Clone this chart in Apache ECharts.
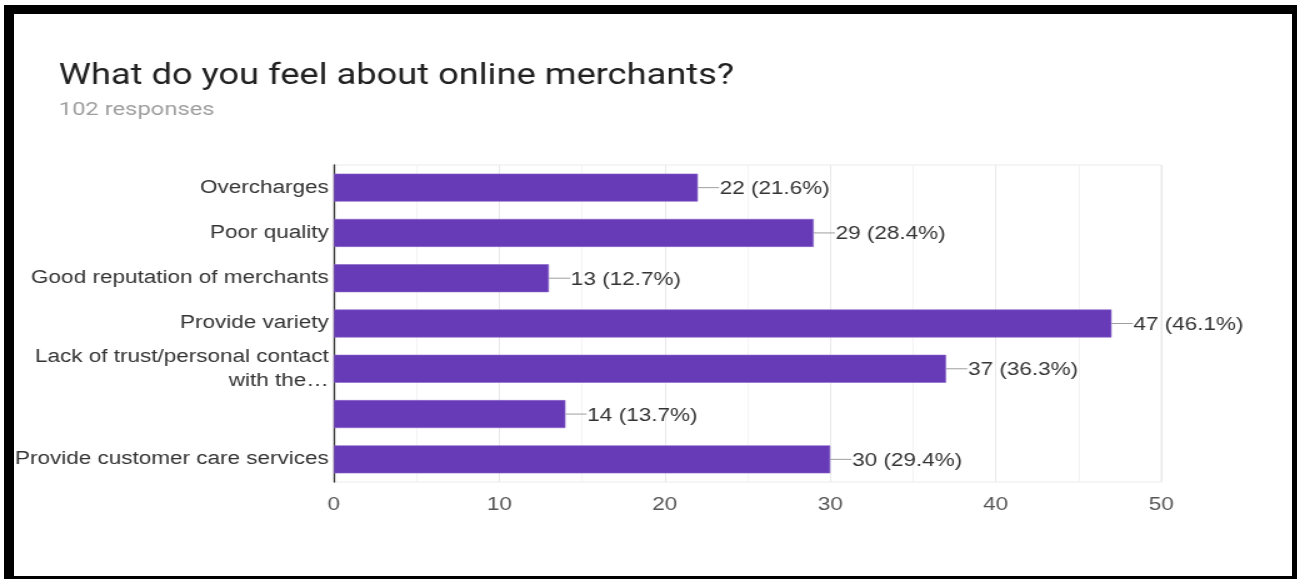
<!DOCTYPE html>
<html>
<head>
<meta charset="utf-8">
<title>What do you feel about online merchants?</title>
<script src="https://cdn.jsdelivr.net/npm/echarts@6/dist/echarts.min.js"></script>
<style>
  html, body { margin: 0; padding: 0; background: #ffffff; overflow: hidden; }
  /* The chart is laid out narrower and widened 1.25x, giving the wide lettering */
  #chart {
    position: absolute; left: 0; top: 0; width: 1038px; height: 579px;
    transform: scaleX(1.25); transform-origin: 0 0;
  }
  #frame {
    position: absolute; left: 4px; top: 5px; width: 1293px; height: 574px;
    box-sizing: border-box; border-style: solid; border-color: #000;
    border-width: 9px 5px 3px 10px; pointer-events: none;
  }
</style>
</head>
<body>
<div id="chart"></div>
<div id="frame"></div>
<script>
// Survey answers, top to bottom
const categories = [
  'Overcharges',
  'Poor quality',
  'Good reputation of merchants',
  'Provide variety',
  'Lack of trust/personal contact\nwith the\u2026',
  '',
  'Provide customer care services'
];
const counts = [22, 29, 13, 47, 37, 14, 30];
const percents = ['21.6', '28.4', '12.7', '46.1', '36.3', '13.7', '29.4'];
const xTicks = [0, 10, 20, 30, 40, 50];

const chart = echarts.init(document.getElementById('chart'));

// Value labels with a short leader line from the bar end
const labelData = counts.map((v, i) => [v, i]);

chart.setOption({
  animation: false,
  title: {
    text: 'What do you feel about online merchants?',
    subtext: '102 responses',
    left: 42,
    top: 57,
    itemGap: 10,
    textStyle: { fontFamily: 'Roboto', fontSize: 29, fontWeight: 'normal', color: '#212121' },
    subtextStyle: { fontFamily: 'Roboto', fontSize: 19, color: '#9e9e9e' }
  },
  grid: {
    left: 267, right: 109, top: 165, bottom: 97,
    show: true, borderColor: '#ebebeb', borderWidth: 1
  },
  xAxis: {
    type: 'value',
    min: xTicks[0],
    max: xTicks[xTicks.length - 1],
    interval: 10,
    axisLine: { show: false },
    axisTick: { show: false },
    axisLabel: {
      margin: 14, fontFamily: 'Liberation Sans', fontSize: 18, color: '#555555',
      formatter: v => (xTicks.includes(v) ? String(v) : '')
    },
    splitLine: { lineStyle: { color: '#e8e8e8', width: 1 } },
    minorTick: { show: false, splitNumber: 2 },
    minorSplitLine: { show: true, lineStyle: { color: '#f3f3f3', width: 1 } }
  },
  yAxis: {
    type: 'category',
    inverse: true,
    data: categories,
    axisLine: { show: true, lineStyle: { color: '#333333', width: 1.3 } },
    axisTick: { show: false },
    axisLabel: {
      margin: 4, fontFamily: 'Liberation Sans', fontSize: 18, color: '#333333',
      lineHeight: 24, padding: [3, 0, 0, 0]
    },
    splitLine: { show: false }
  },
  series: [
    {
      type: 'bar',
      data: counts,
      barWidth: 28,
      itemStyle: { color: '#673ab7', borderColor: '#8a67c9', borderWidth: 0.6 }
    },
    {
      type: 'custom',
      data: labelData,
      encode: { x: 0, y: 1 },
      z: 5,
      renderItem: function (params, api) {
        const p = api.coord([api.value(0), api.value(1)]);
        const i = params.dataIndex;
        return {
          type: 'group',
          children: [
            {
              type: 'line',
              shape: { x1: p[0], y1: p[1], x2: p[0] + 17, y2: p[1] },
              style: { stroke: '#9e9e9e', lineWidth: 1 }
            },
            {
              type: 'text',
              x: p[0] + 17.5,
              y: p[1] + 1.5,
              style: {
                text: counts[i] + ' (' + percents[i] + '%)',
                fontFamily: 'Liberation Sans',
                fontSize: 18,
                fill: '#333333',
                verticalAlign: 'middle',
                align: 'left'
              }
            }
          ]
        };
      }
    }
  ]
});
</script>
</body>
</html>
